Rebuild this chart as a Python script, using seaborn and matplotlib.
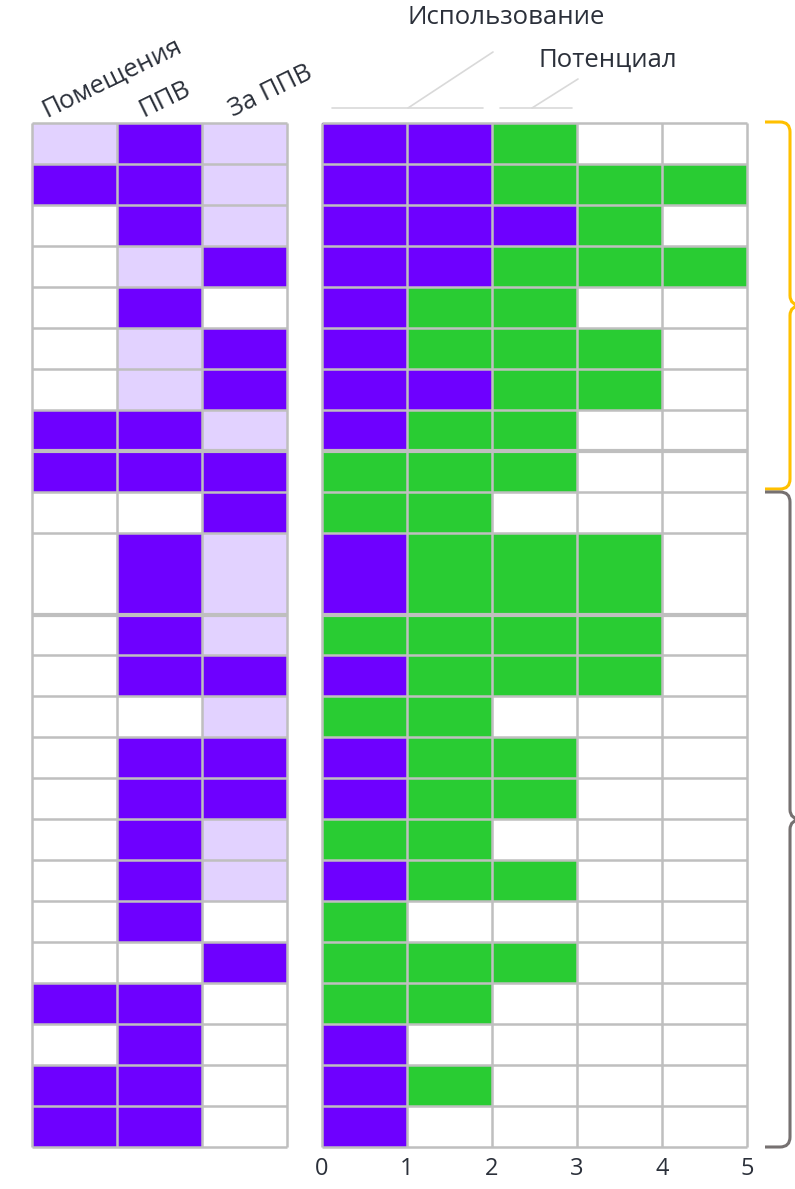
import numpy as np
import pandas as pd
import matplotlib
matplotlib.use('Agg')
import matplotlib.pyplot as plt
import seaborn as sns
from matplotlib.colors import ListedColormap
from matplotlib.lines import Line2D
from matplotlib.path import Path
from matplotlib.patches import PathPatch

# ── data ─────────────────────────────────────────────────────────────────────
# left block: 0 = none, 1 = partial (light), 2 = full
left_cols = ['Помещения', 'ППВ', 'За ППВ']
left_vals = [
    [1, 2, 1],
    [2, 2, 1],
    [0, 2, 1],
    [0, 1, 2],
    [0, 2, 0],
    [0, 1, 2],
    [0, 1, 2],
    [2, 2, 1],
    [2, 2, 2],
    [0, 0, 2],
    [0, 2, 1],
    [0, 2, 1],
    [0, 2, 2],
    [0, 0, 1],
    [0, 2, 2],
    [0, 2, 2],
    [0, 2, 1],
    [0, 2, 1],
    [0, 2, 0],
    [0, 0, 2],
    [2, 2, 0],
    [0, 2, 0],
    [2, 2, 0],
    [2, 2, 0],
]

# right block: 0 = empty, 1 = usage, 2 = potential
right_cols = ['c1', 'c2', 'c3', 'c4', 'c5']
right_ticks = ['0', '1', '2', '3', '4', '5']
right_vals = [
    [1, 1, 2, 0, 0],
    [1, 1, 2, 2, 2],
    [1, 1, 1, 2, 0],
    [1, 1, 2, 2, 2],
    [1, 2, 2, 0, 0],
    [1, 2, 2, 2, 0],
    [1, 1, 2, 2, 0],
    [1, 2, 2, 0, 0],
    [2, 2, 2, 0, 0],
    [2, 2, 0, 0, 0],
    [1, 2, 2, 2, 0],
    [2, 2, 2, 2, 0],
    [1, 2, 2, 2, 0],
    [2, 2, 0, 0, 0],
    [1, 2, 2, 0, 0],
    [1, 2, 2, 0, 0],
    [2, 2, 0, 0, 0],
    [1, 2, 2, 0, 0],
    [2, 0, 0, 0, 0],
    [2, 2, 2, 0, 0],
    [2, 2, 0, 0, 0],
    [1, 0, 0, 0, 0],
    [1, 2, 0, 0, 0],
    [1, 0, 0, 0, 0],
]

# row 11 is drawn twice as tall; heavier separators after rows 8 and 11
row_span = [1] * 10 + [2] + [1] * 13
heavy_after = [8, 11]

# ── style ────────────────────────────────────────────────────────────────────
PURPLE = '#6E00FF'
LAVENDER = '#E2D2FF'
GREEN = '#29CC33'
GRID = '#BFBFBF'
TXT = '#2B303A'
FS = 18.5

sns.set_theme(style='white')
plt.rcParams['font.family'] = ['Open Sans', 'DejaVu Sans']

W, H = 795, 1189
fig = plt.figure(figsize=(W / 100, H / 100), dpi=100)


def fx(x):
    return x / W


def fy(y):
    return 1 - y / H


top_px, bot_px = 123, 1147
axl = fig.add_axes([fx(32), fy(bot_px), (287 - 32) / W, (bot_px - top_px) / H])
axr = fig.add_axes([fx(322), fy(bot_px), (747 - 322) / W, (bot_px - top_px) / H])

bounds = np.cumsum([0] + row_span)
heavy = {bounds[i] for i in heavy_after}


def draw_block(ax, vals, cols, colors):
    df = pd.DataFrame(np.repeat(np.array(vals), row_span, axis=0), columns=cols)
    sns.heatmap(df, ax=ax, cmap=ListedColormap(colors), vmin=0, vmax=2,
                cbar=False, linewidths=0, xticklabels=False, yticklabels=False)
    n = len(cols)
    for b in bounds:
        ax.hlines(b, 0, n, color=GRID, lw=3.0 if b in heavy else 1.8,
                  clip_on=False, zorder=3)
    for c in range(n + 1):
        ax.vlines(c, 0, bounds[-1], color=GRID, lw=1.8, clip_on=False, zorder=3)
    for s in ax.spines.values():
        s.set_visible(False)


draw_block(axl, left_vals, left_cols, ['white', LAVENDER, PURPLE])
draw_block(axr, right_vals, right_cols, ['white', PURPLE, GREEN])

# rotated column headers over the left block
label_x = [0.17, 1.31, 2.36]
for lab, x in zip(left_cols, label_x):
    axl.annotate(lab, xy=(x, 0), xycoords='data', xytext=(0, 4),
                 textcoords='offset points', rotation=26, rotation_mode='anchor',
                 ha='left', va='baseline', fontsize=FS, color=TXT)

# bottom scale of the right block
axr.set_xticks(range(len(right_ticks)))
axr.set_xticklabels(right_ticks, rotation=0)
axr.tick_params(axis='x', length=0, pad=7, labelsize=17, labelcolor=TXT)

# header captions with leader lines
fig.text(fx(506), fy(18), 'Использование', ha='center', va='center',
         fontsize=FS, color=TXT)
fig.text(fx(608), fy(60), 'Потенциал', ha='center', va='center',
         fontsize=FS, color=TXT)
leaders = [((332, 483), (108, 108)), ((408, 493), (108, 52)),
           ((500, 572), (108, 108)), ((532, 578), (108, 79))]
for xs, ys in leaders:
    fig.add_artist(Line2D([fx(v) for v in xs], [fy(v) for v in ys],
                          transform=fig.transFigure, color='#D9D9D9', lw=1.2))


# curly braces on the right
def brace(top, bot, color):
    x0, x1, x2, r = 765, 790, 802, 10
    mid = (top + bot) / 2
    pts = [(x0, top), (x1 - r, top), (x1, top), (x1, top + r),
           (x1, mid - r), (x1, mid), (x2, mid),
           (x1, mid), (x1, mid + r),
           (x1, bot - r), (x1, bot), (x1 - r, bot), (x0, bot)]
    codes = [Path.MOVETO, Path.LINETO, Path.CURVE3, Path.CURVE3,
             Path.LINETO, Path.CURVE3, Path.CURVE3,
             Path.CURVE3, Path.CURVE3,
             Path.LINETO, Path.CURVE3, Path.CURVE3, Path.LINETO]
    path = Path([(fx(a), fy(b)) for a, b in pts], codes)
    fig.add_artist(PathPatch(path, transform=fig.transFigure, fill=False,
                             edgecolor=color, lw=2.2, capstyle='butt'))


brace(122, 489, '#FFC000')
brace(492, 1147, '#767171')

fig.savefig('out.png', dpi=100)
